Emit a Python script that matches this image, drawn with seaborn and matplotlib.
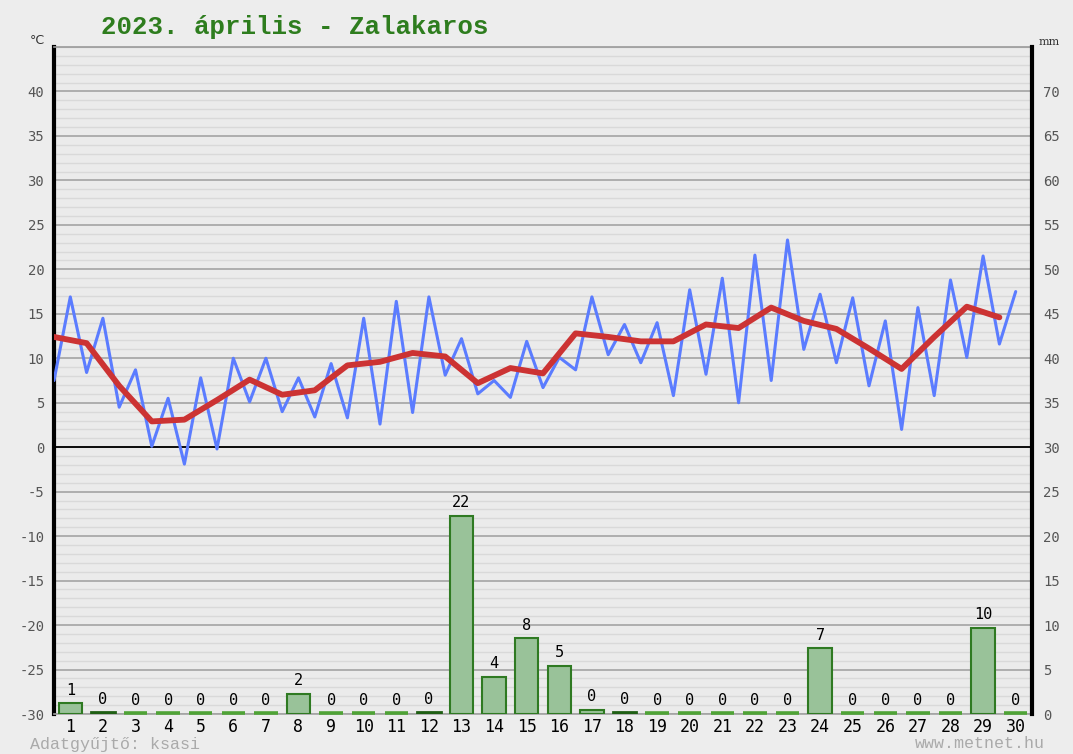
import numpy as np
import pandas as pd
import matplotlib
matplotlib.use('Agg')
import matplotlib.pyplot as plt
import seaborn as sns

# data: 2023 April, Zalakaros
days = list(range(1, 31))

# temperature (°C), two readings a day (night min / afternoon max)
temp_halfday = [7.5, 16.9, 8.4, 14.5, 4.5, 8.7, 0.1, 5.5, -1.9, 7.8,
                -0.2, 10.0, 5.1, 10.0, 4.0, 7.8, 3.4, 9.4, 3.3, 14.5,
                2.6, 16.4, 3.9, 16.9, 8.1, 12.2, 6.0, 7.5, 5.6, 11.9,
                6.7, 10.1, 8.7, 16.9, 10.4, 13.8, 9.5, 14.0, 5.8, 17.7,
                8.2, 19.0, 5.0, 21.6, 7.5, 23.3, 11.0, 17.2, 9.5, 16.8,
                6.9, 14.2, 2.0, 15.7, 5.8, 18.8, 10.1, 21.5, 11.6, 17.5]

# daily mean temperature (°C)
temp_mean = [12.4, 11.7, 6.9, 2.9, 3.1, 5.3, 7.6, 5.9, 6.4, 9.2,
             9.6, 10.6, 10.2, 7.2, 8.9, 8.3, 12.8, 12.4, 11.9, 11.9,
             13.8, 13.4, 15.7, 14.2, 13.3, 11.1, 8.8, 12.4, 15.8, 14.6]

# daily precipitation (mm)
precip = [1.2, 0.2, 0, 0, 0, 0, 0, 2.3, 0, 0,
          0, 0.2, 22.3, 4.2, 8.5, 5.4, 0.5, 0.2, 0, 0,
          0, 0, 0, 7.4, 0, 0, 0, 0, 9.7, 0]

title = '2023. április - Zalakaros'
left_label = '°C'
right_label = 'mm'
footer_left = 'Adatgyűjtő: ksasi'
footer_right = 'www.metnet.hu'

# time axis for the lines (day slots run from d-0.5 to d+0.5)
t_half = np.arange(len(temp_halfday)) / 2 + 0.5
t_day = np.arange(len(temp_mean)) + 0.5

df_half = pd.DataFrame({'t': t_half, 'temp': temp_halfday})
df_mean = pd.DataFrame({'t': t_day, 'temp': temp_mean})
df_rain = pd.DataFrame({'day': days, 'mm': precip})

bg = '#ebebeb'
bar_width = 0.72
sns.set_theme(style='white')
plt.rcParams['font.family'] = ['DejaVu Sans Mono', 'DejaVu Sans']
plt.rcParams['axes.unicode_minus'] = False

fig = plt.figure(figsize=(10.73, 7.54), dpi=100, facecolor='#ededed')
ax = fig.add_axes([54 / 1073, 40 / 754, 978 / 1073, 667 / 754])
ax.set_facecolor(bg)

# grid
ax.set_ylim(-30, 45)
ax.set_yticks(np.arange(-30, 41, 5))
ax.set_yticks(np.arange(-30, 46, 1), minor=True)
ax.grid(which='minor', axis='y', color='#d9d9d9', lw=1.0)
ax.grid(which='major', axis='y', color='#a3a3a3', lw=1.2)
ax.grid(False, axis='x')
ax.set_axisbelow(True)
ax.axhline(0, color='black', lw=1.3, zorder=2)

sns.lineplot(data=df_half, x='t', y='temp', ax=ax, color='#5b7cff',
             lw=2.2, zorder=3)
sns.lineplot(data=df_mean, x='t', y='temp', ax=ax, color='#cc3333',
             lw=4.2, zorder=4)

ax.set_xlim(0.5, 30.5)
ax.set_xticks(days)
ax.set_xticklabels([str(d) for d in days], fontsize=12, color='black')
ax.tick_params(axis='x', length=0, pad=3)
ax.tick_params(axis='y', which='both', length=0, pad=7,
               labelsize=10, labelcolor='#555555')
ax.set_xlabel('')
ax.set_ylabel('')

ax.spines['right'].set_visible(False)
ax.spines['left'].set_color('black')
ax.spines['left'].set_linewidth(3)
ax.spines['top'].set_color('#999999')
ax.spines['top'].set_linewidth(1.2)
ax.spines['bottom'].set_color('#a3a3a3')
ax.spines['bottom'].set_linewidth(1.2)

# precipitation on the right axis
ax2 = ax.twinx()
sns.barplot(data=df_rain, x='day', y='mm', ax=ax2, native_scale=True,
            width=bar_width, color='#99c299', edgecolor='#2f7a22',
            linewidth=1.5, saturation=1, zorder=3)
ax2.set_xlim(0.5, 30.5)
ax2.set_ylim(0, 75)
ax2.set_yticks(np.arange(0, 71, 5))
ax2.tick_params(axis='y', length=0, pad=8, labelsize=10,
                labelcolor='#555555')
ax2.set_ylabel('')
ax2.set_xlabel('')
ax2.grid(False)
for s in ['left', 'top', 'bottom']:
    ax2.spines[s].set_visible(False)
ax2.spines['right'].set_color('black')
ax2.spines['right'].set_linewidth(3)

# tiny amounts show as a dark strip, dry days as a light green line
for patch, v in zip(ax2.patches, precip):
    if 0 < v < 0.3:
        patch.set_edgecolor('#1f5f14')
        patch.set_linewidth(2.0)
dry = df_rain[df_rain['mm'] == 0]['day']
ax2.hlines(np.full(len(dry), 0.1), dry - bar_width / 2, dry + bar_width / 2,
           color='#4fa336', lw=2.6, zorder=5, clip_on=False)

for d, v in zip(days, precip):
    ax2.annotate(f'{v:.0f}', xy=(d, v), xytext=(0, 4),
                 textcoords='offset points', ha='center', va='bottom',
                 fontsize=11, color='black')

# texts
fig.text(295 / 1073, 1 - 27 / 754, title, ha='center', va='center',
         fontsize=18.5, fontweight='bold', color='#2e7d1e',
         family=['Liberation Mono', 'DejaVu Sans Mono'])
fig.text(37 / 1073, 1 - 41 / 754, left_label, ha='center', va='center',
         fontsize=9, color='#333333', family=['DejaVu Sans'])
fig.text(1049 / 1073, 1 - 42 / 754, right_label, ha='center', va='center',
         fontsize=8, color='#333333', family=['DejaVu Serif'])
fig.text(30 / 1073, 1 - 744 / 754, footer_left, ha='left', va='center',
         fontsize=12, color='#aaaaaa',
         family=['Liberation Mono', 'DejaVu Sans Mono'])
fig.text(1045 / 1073, 1 - 744 / 754, footer_right, ha='right', va='center',
         fontsize=12, color='#aaaaaa',
         family=['Liberation Mono', 'DejaVu Sans Mono'])

plt.savefig('out.png', dpi=100, facecolor=fig.get_facecolor())
